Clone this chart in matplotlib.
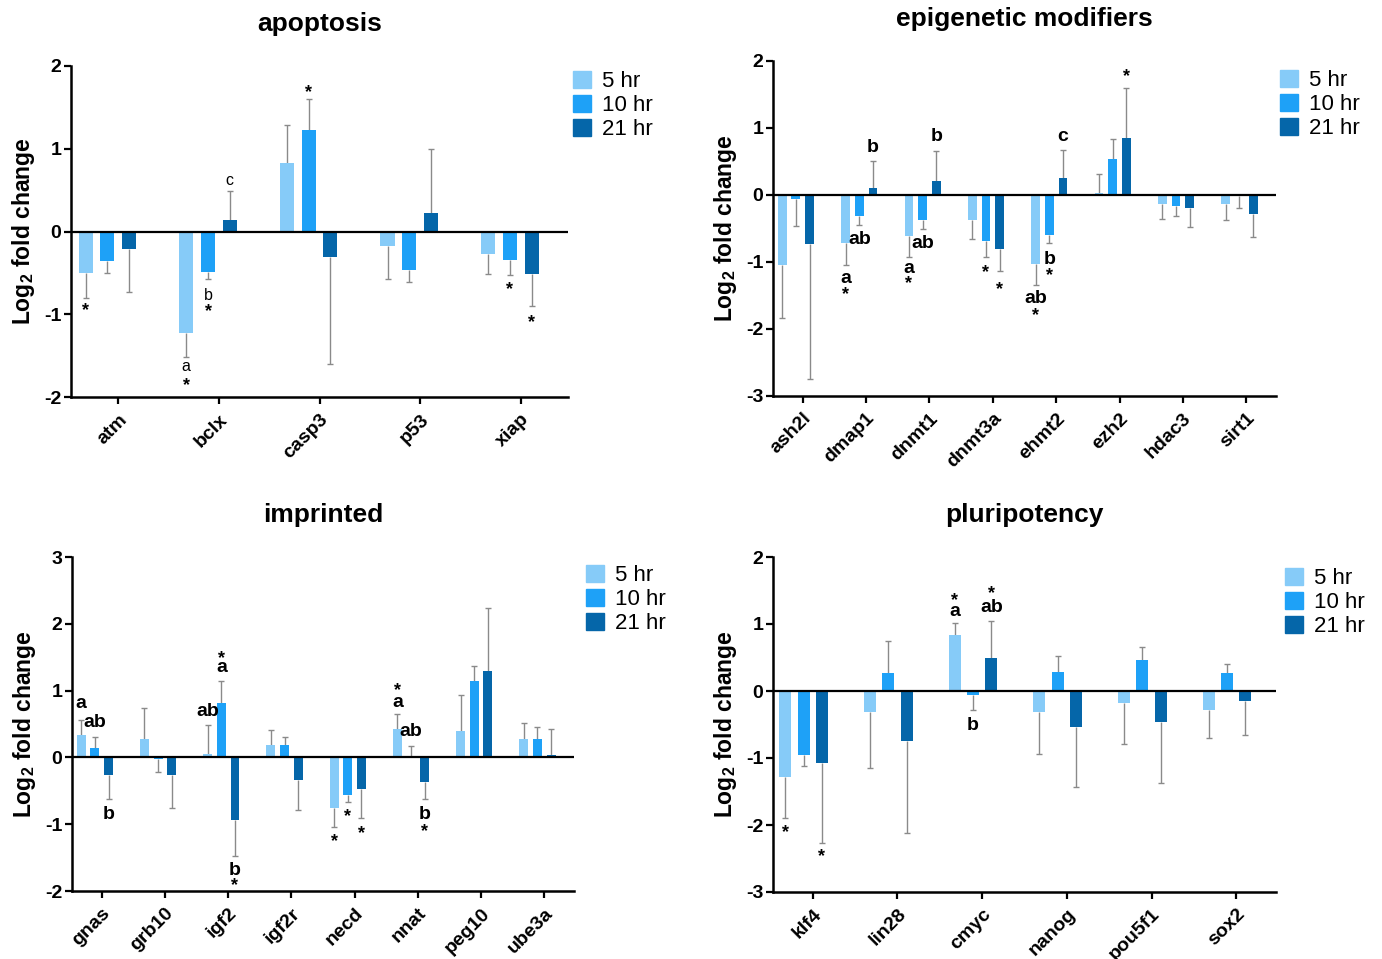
import numpy as np
import matplotlib
matplotlib.use("Agg")
import matplotlib.pyplot as plt
from matplotlib.patches import Patch

plt.rcParams["font.family"] = ["Liberation Sans", "DejaVu Sans"]
plt.rcParams["mathtext.fontset"] = "custom"
plt.rcParams["mathtext.rm"] = "Liberation Sans:bold"
plt.rcParams["mathtext.bf"] = "Liberation Sans:bold"
plt.rcParams["axes.unicode_minus"] = False

SERIES = ["5 hr", "10 hr", "21 hr"]
COLORS = ["#86CBF8", "#1EA1F7", "#0566A9"]

# apoptosis
apo_genes = ["atm", "bclx", "casp3", "p53", "xiap"]
apo_5 = [-0.50, -1.23, 0.83, -0.18, -0.27]
apo_10 = [-0.36, -0.49, 1.23, -0.46, -0.35]
apo_21 = [-0.21, 0.14, -0.31, 0.22, -0.51]
apo_5_sem = [0.30, 0.29, 0.46, 0.39, 0.24]
apo_10_sem = [0.14, 0.09, 0.37, 0.15, 0.17]
apo_21_sem = [0.52, 0.35, 1.29, 0.78, 0.39]
# (series, gene, text, y)
apo_notes = [
    (0, 0, "*", -0.93),
    (0, 1, "a", -1.63), (0, 1, "*", -1.83),
    (1, 1, "b", -0.77), (1, 1, "*", -0.94),
    (2, 1, "c", 0.62),
    (1, 2, "*", 1.71),
    (1, 4, "*", -0.67),
    (2, 4, "*", -1.07),
]

# epigenetic modifiers
epi_genes = ["ash2l", "dmap1", "dnmt1", "dnmt3a", "ehmt2", "ezh2", "hdac3", "sirt1"]
epi_5 = [-1.04, -0.71, -0.61, -0.38, -1.03, 0.03, -0.13, -0.13]
epi_10 = [-0.06, -0.31, -0.37, -0.68, -0.59, 0.54, -0.16, -0.01]
epi_21 = [-0.73, 0.11, 0.21, -0.80, 0.26, 0.85, -0.20, -0.29]
epi_5_sem = [0.80, 0.34, 0.31, 0.28, 0.32, 0.28, 0.23, 0.25]
epi_10_sem = [0.40, 0.14, 0.14, 0.24, 0.13, 0.29, 0.15, 0.19]
epi_21_sem = [2.01, 0.39, 0.44, 0.34, 0.41, 0.75, 0.28, 0.33]
epi_notes = [
    (0, 1, "a", -1.24), (0, 1, "*", -1.45), (1, 1, "ab", -0.67), (2, 1, "b", 0.71),
    (0, 2, "a", -1.10), (0, 2, "*", -1.28), (1, 2, "ab", -0.73), (2, 2, "b", 0.87),
    (1, 3, "*", -1.12), (2, 3, "*", -1.37),
    (0, 4, "ab", -1.55), (0, 4, "*", -1.76), (1, 4, "b", -0.97), (1, 4, "*", -1.16),
    (2, 4, "c", 0.88),
    (2, 5, "*", 1.80),
]

# imprinted
imp_genes = ["gnas", "grb10", "igf2", "igf2r", "necd", "nnat", "peg10", "ube3a"]
imp_5 = [0.33, 0.28, 0.05, 0.18, -0.75, 0.43, 0.40, 0.28]
imp_10 = [0.14, -0.02, 0.82, 0.18, -0.57, 0.02, 1.14, 0.28]
imp_21 = [-0.26, -0.26, -0.93, -0.34, -0.48, -0.37, 1.29, 0.04]
imp_5_sem = [0.23, 0.46, 0.43, 0.23, 0.29, 0.22, 0.53, 0.24]
imp_10_sem = [0.16, 0.20, 0.33, 0.13, 0.10, 0.15, 0.23, 0.18]
imp_21_sem = [0.37, 0.50, 0.55, 0.44, 0.43, 0.26, 0.94, 0.38]
imp_notes = [
    (0, 0, "a", 0.80), (1, 0, "ab", 0.52), (2, 0, "b", -0.86),
    (0, 2, "ab", 0.68), (1, 2, "*", 1.51), (1, 2, "a", 1.34),
    (2, 2, "b", -1.69), (2, 2, "*", -1.88),
    (0, 4, "*", -1.22), (1, 4, "*", -0.85), (2, 4, "*", -1.10),
    (0, 5, "*", 1.04), (0, 5, "a", 0.82), (1, 5, "ab", 0.39),
    (2, 5, "b", -0.86), (2, 5, "*", -1.07),
]

# pluripotency
plu_genes = ["klf4", "lin28", "cmyc", "nanog", "pou5f1", "sox2"]
plu_5 = [-1.28, -0.31, 0.84, -0.32, -0.18, -0.29]
plu_10 = [-0.95, 0.27, -0.06, 0.29, 0.46, 0.27]
plu_21 = [-1.07, -0.74, 0.49, -0.53, -0.46, -0.15]
plu_5_sem = [0.62, 0.84, 0.17, 0.62, 0.61, 0.41]
plu_10_sem = [0.17, 0.47, 0.23, 0.23, 0.20, 0.13]
plu_21_sem = [1.20, 1.38, 0.55, 0.91, 0.91, 0.51]
plu_notes = [
    (0, 0, "*", -2.07), (2, 0, "*", -2.44),
    (0, 2, "*", 1.39), (0, 2, "a", 1.19), (1, 2, "b", -0.52),
    (2, 2, "*", 1.49), (2, 2, "ab", 1.25),
]

W, H = 1382, 959
OFFSETS = [-1.5, -0.5, 0.5]
STEP = 0.216
BAR_W = 0.14


def px_axes(fig, left, right, top, bottom):
    return fig.add_axes([left / W, 1 - bottom / H, (right - left) / W, (bottom - top) / H])


def panel(ax, title, genes, means, sems, notes, ylim, leg_xy, small_letters=False):
    n = len(genes)
    x = np.arange(n)
    for s in range(3):
        xs = x + OFFSETS[s] * STEP
        vals = np.array(means[s])
        err = np.array(sems[s])
        ends = vals + np.sign(vals + 1e-9) * err
        ax.bar(xs, vals, BAR_W, color=COLORS[s], label=SERIES[s], zorder=2)
        # one-sided error bars, pointing away from zero
        ax.vlines(xs, vals, ends, color="#8a8a8a", lw=1.0, zorder=1)
        ax.plot(xs, ends, ls="none", marker="_", ms=5, mew=1.0, color="#8a8a8a", zorder=1)
    ax.axhline(0, color="black", lw=1.6, zorder=3)

    for s, g, txt, y in notes:
        xx = g + OFFSETS[s] * STEP
        if txt == "*":
            fs = 13
            dy = -1.8
            wt = "bold"
        else:
            fs = 11.5 if small_letters else 14
            wt = "normal" if small_letters else "bold"
            dy = 0
        ax.annotate(txt, (xx, y), xytext=(0, dy), textcoords="offset points",
                    ha="center", va="center", fontsize=fs, fontweight=wt)

    ax.set_xlim(-0.47, n - 1 + 0.47)
    ax.set_ylim(*ylim)
    ax.set_yticks(np.arange(ylim[0], ylim[1] + 1))
    ax.set_xticks(x)
    ax.set_xticklabels(genes, rotation=45, ha="right", rotation_mode="anchor",
                       fontsize=14, fontweight="bold")
    for lab in ax.get_yticklabels():
        lab.set_fontweight("bold")
        lab.set_fontsize(14)
    ax.tick_params(axis="both", width=1.6, length=5, color="black")
    ax.tick_params(axis="x", pad=5)
    ax.tick_params(axis="y", pad=2)
    for side in ["top", "right"]:
        ax.spines[side].set_visible(False)
    for side in ["left", "bottom"]:
        ax.spines[side].set_linewidth(1.8)

    ax.set_ylabel(r"Log$_{2}$ fold change", fontsize=16.5, fontweight="bold")
    bbox = ax.get_position()
    ax.yaxis.set_label_coords(-34 / (bbox.width * W), 0.5)
    ax.text(0.5, 1 + 42 / (bbox.height * H), title, transform=ax.transAxes,
            ha="center", va="center", fontsize=19, fontweight="bold")

    handles = [Patch(color=c) for c in COLORS]
    ax.legend(handles, SERIES, loc="upper left", bbox_to_anchor=leg_xy, frameon=False,
              fontsize=16, handlelength=0.8, handleheight=0.8, handletextpad=0.5,
              labelspacing=0.12, borderpad=0, borderaxespad=0)


fig = plt.figure(figsize=(W / 100, H / 100), dpi=100)

ax1 = px_axes(fig, 71, 568, 66, 397)
panel(ax1, "apoptosis", apo_genes, [apo_5, apo_10, apo_21],
      [apo_5_sem, apo_10_sem, apo_21_sem], apo_notes, (-2, 2), (1.010, 0.985),
      small_letters=True)

ax2 = px_axes(fig, 773, 1276, 61, 396)
panel(ax2, "epigenetic modifiers", epi_genes, [epi_5, epi_10, epi_21],
      [epi_5_sem, epi_10_sem, epi_21_sem], epi_notes, (-3, 2), (1.008, 0.973))

ax3 = px_axes(fig, 72, 574, 557, 891)
panel(ax3, "imprinted", imp_genes, [imp_5, imp_10, imp_21],
      [imp_5_sem, imp_10_sem, imp_21_sem], imp_notes, (-2, 3), (1.024, 0.976))

ax4 = px_axes(fig, 773, 1276, 557, 892)
panel(ax4, "pluripotency", plu_genes, [plu_5, plu_10, plu_21],
      [plu_5_sem, plu_10_sem, plu_21_sem], plu_notes, (-3, 2), (1.018, 0.967))

fig.savefig("out.png", dpi=100)
